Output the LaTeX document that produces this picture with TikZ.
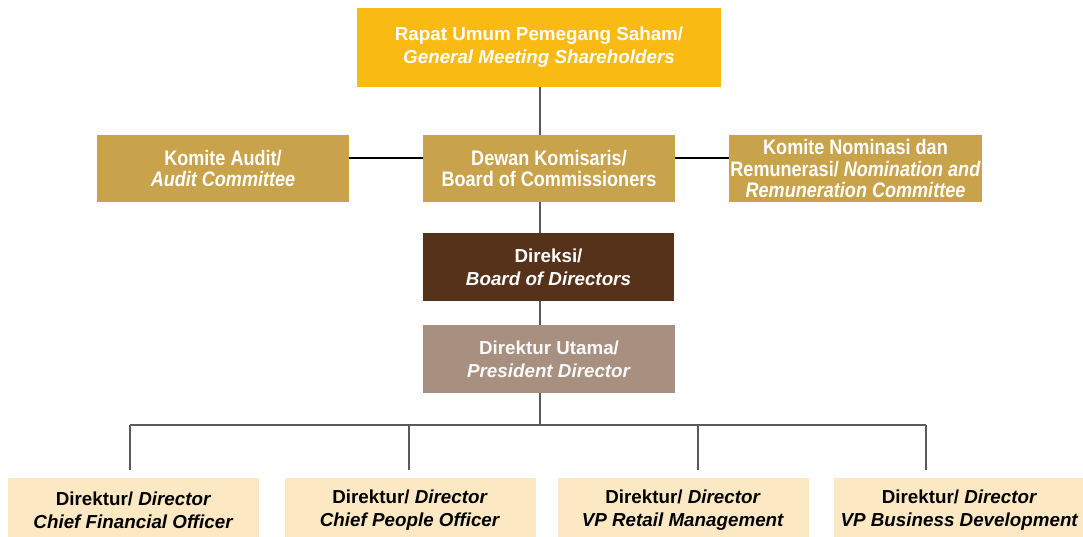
\documentclass[tikz,border=0pt]{standalone}
\usepackage{fontspec}
\setmainfont{Liberation Sans}
\newfontfamily\narrowsf[FakeStretch=0.86]{Liberation Sans}

\definecolor{rupsyellow}{HTML}{F9BB13}
\definecolor{boardgold}{HTML}{C9A34B}
\definecolor{direksibrown}{HTML}{56321B}
\definecolor{pdtaupe}{HTML}{A89080}
\definecolor{dircream}{HTML}{FCE9C3}
\definecolor{linkgray}{HTML}{595959}

\tikzset{
  orgbox/.style={rectangle, inner sep=0pt, align=center, text=white,
    minimum width=252pt, minimum height=68pt,
    font=\fontsize{18.8}{23}\selectfont\bfseries},
  boardbox/.style={orgbox, fill=boardgold, minimum height=67pt,
    font=\narrowsf\fontsize{21}{21.5}\selectfont\bfseries},
  dirbox/.style={orgbox, fill=dircream, text=black, minimum width=251pt, minimum height=64pt},
  link/.style={draw=linkgray, line width=2pt},
  sidelink/.style={draw=black, line width=2.2pt}
}

\begin{document}
\begin{tikzpicture}[x=1pt, y=-1pt]
  \useasboundingbox (0,0) rectangle (1083,537);

  % shareholders and board of commissioners
  \node[orgbox, fill=rupsyellow, minimum width=364pt, minimum height=79pt] (rups) at (539,47.5)
    {Rapat Umum Pemegang Saham/\\\textit{General Meeting Shareholders}};
  \node[boardbox] (audit) at (223,168.5) {Komite Audit/\\\textit{Audit Committee}};
  \node[boardbox] (dekom) at (549,168.5) {Dewan Komisaris/\\Board of Commissioners};
  \node[boardbox, minimum width=253pt] (nomrem) at (855.5,168.5)
    {Komite Nominasi dan\\Remunerasi/ \textit{Nomination and}\\\textit{Remuneration Committee}};

  % directors
  \node[orgbox, fill=direksibrown, minimum width=251pt] (direksi) at (548.5,267)
    {Direksi/\\\textit{Board of Directors}};
  \node[orgbox, fill=pdtaupe, text=white!95!pdtaupe] (presdir) at (549,359)
    {Direktur Utama/\\\textit{President Director}};

  \node[dirbox] (cfo) at (133.5,510) {Direktur/ \textit{Director}\\\textit{Chief Financial Officer}};
  \node[dirbox] (cpo) at (410,510) {Direktur/ \textit{Director}\\\textit{Chief People Officer}};
  \node[dirbox] (retail) at (683,510) {Direktur/ \textit{Director}\\\textit{VP Retail Management}};
  \node[dirbox] (bizdev) at (959.5,510) {Direktur/ \textit{Director}\\\textit{VP Business Development}};

  % trunk line and bus
  \coordinate (trunk) at (540,0);
  \coordinate (bus) at (540,425);
  \draw[link] (rups.south -| trunk) -- (dekom.north -| trunk);
  \draw[link] (dekom.south -| trunk) -- (direksi.north -| trunk);
  \draw[link] (direksi.south -| trunk) -- (presdir.north -| trunk);
  \draw[link] (presdir.south -| trunk) -- (bus);
  \draw[sidelink] (audit.east |- 0,158) -- (dekom.west |- 0,158);
  \draw[sidelink] (dekom.east |- 0,158) -- (nomrem.west |- 0,158);

  % drops to the directors
  \foreach \n/\x in {1/130, 2/409, 3/698, 4/926}
    \coordinate (drop\n) at (\x,470);
  \draw[link] (drop1 |- bus) -- (drop4 |- bus);
  \foreach \n in {1,...,4}
    \draw[link] (drop\n |- bus) -- (drop\n);
\end{tikzpicture}
\end{document}
